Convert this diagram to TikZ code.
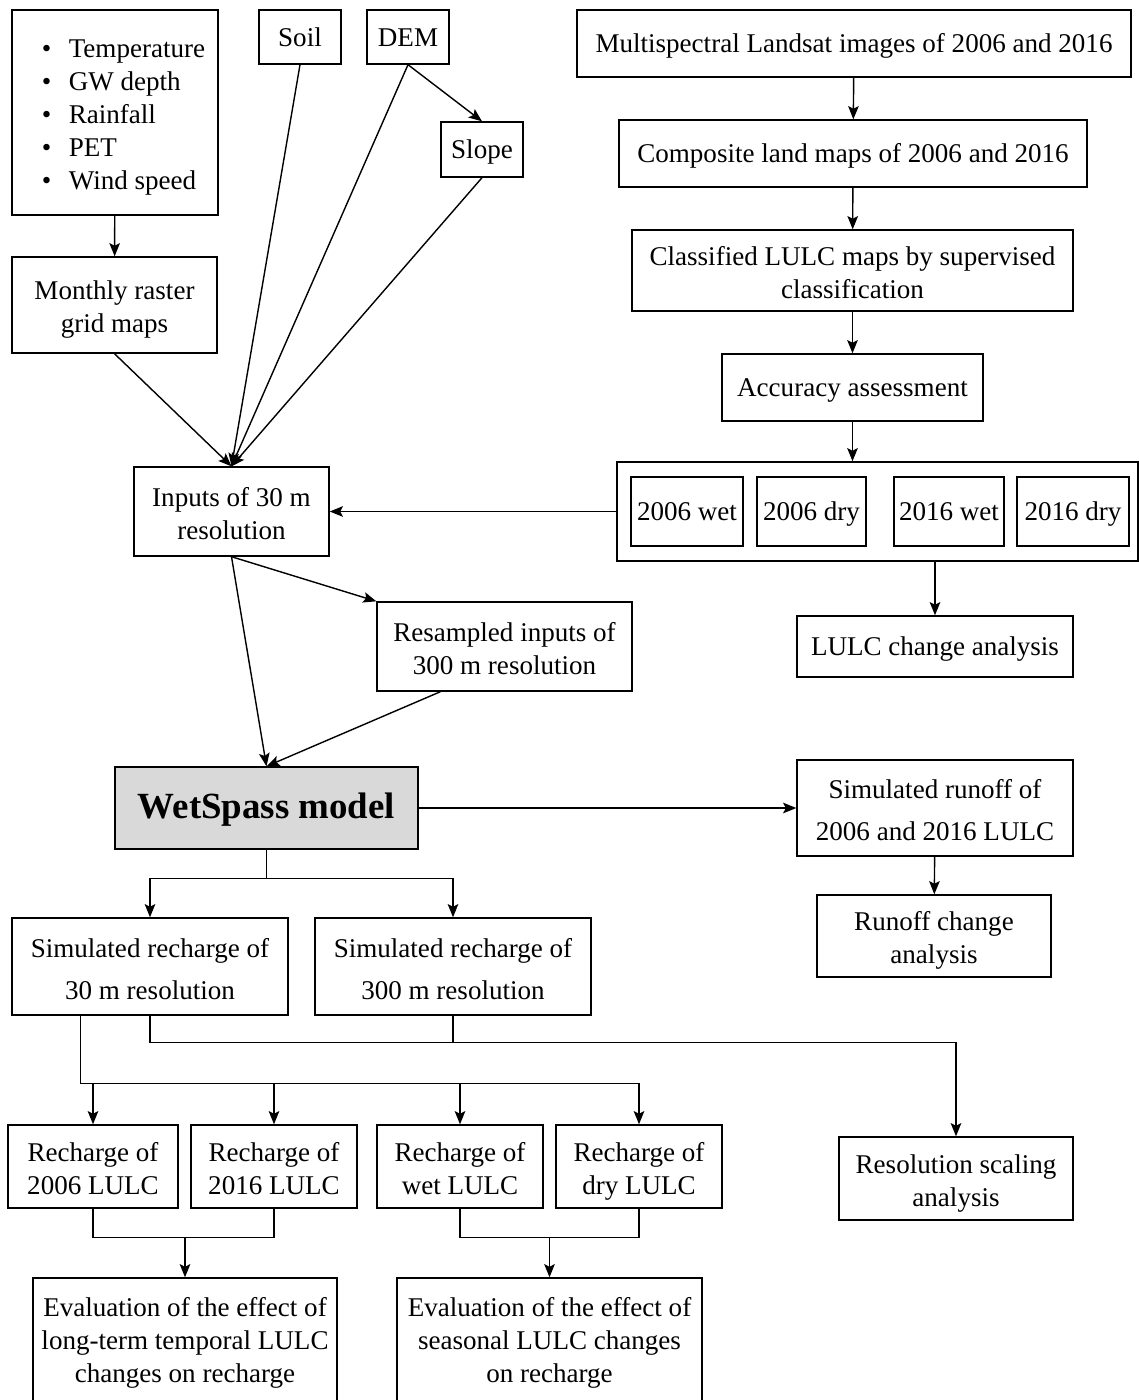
\documentclass[tikz,border=0pt]{standalone}
\usepackage{fontspec}
\setmainfont{Liberation Serif}
\usetikzlibrary{arrows.meta}
\usetikzlibrary{calc}

\begin{document}
\begin{tikzpicture}[x=0.02cm,y=-0.02cm,line width=0.8pt,>={Stealth[length=7.5pt,width=6pt,inset=1.5pt]},
    font=\fontsize{15.4}{18.8}\selectfont,
    box/.style={draw,align=center,inner sep=0pt,text depth=3.85pt},
    l1/.style={box,text height=14.6pt},
    l2/.style={box,text height=35.4pt},
    l2w/.style={box,text height=41.3pt},
    l3/.style={box,text height=51.6pt},
    sz/.style 2 args={minimum width=#1cm,minimum height=#2cm}]
  \useasboundingbox (0,0) rectangle (1139,1400);
  % inputs
  \node (CLIM) [draw,sz={4.12}{4.10}] at (115,112.5) {\begin{tabular}{@{\hspace{0.34cm}}l@{\hspace{0.35cm}}l@{}}
      \textbullet & \rule{0pt}{17.8pt}Temperature\\
      \textbullet & GW depth\\
      \textbullet & Rainfall\\
      \textbullet & PET\\
      \textbullet & Wind speed
    \end{tabular}};
  \node (SOIL) [l1,sz={1.64}{1.08}] at (300,37) {Soil};
  \node (DEM) [l1,sz={1.64}{1.08}] at (408,37) {DEM};
  \node (SLOPE) [l1,sz={1.64}{1.10}] at (482,149.5) {Slope};
  \node (MRG) [l2,sz={4.10}{1.92}] at (114.5,305) {Monthly raster\\grid maps};
  \node (IN30) [l2,sz={3.90}{1.78}] at (231.5,511.5) {Inputs of 30 m\\resolution};
  \node (IN300) [l2,sz={5.10}{1.78}] at (504.5,646.5) {Resampled inputs of\\300 m resolution};
  % landsat branch
  \node (MLS) [l1,sz={11.08}{1.34}] at (854,43.5) {Multispectral Landsat images of 2006 and 2016};
  \node (CLM) [l1,sz={9.36}{1.34}] at (853,153.5) {Composite land maps of 2006 and 2016};
  \node (CLS) [l2,sz={8.82}{1.62}] at (852.5,270.5) {Classified LULC maps by supervised\\classification};
  \node (ACC) [l1,sz={5.22}{1.34}] at (852.5,387.5) {Accuracy assessment};
  \node (SEAS) [draw,sz={10.42}{1.98}] at (877.5,511.5) {};
  \node (W06) [l1,sz={2.24}{1.38}] at (687,511.5) {2006 wet};
  \node (D06) [l1,sz={2.18}{1.38}] at (811.5,511.5) {2006 dry};
  \node (W16) [l1,sz={2.20}{1.38}] at (949,511.5) {2016 wet};
  \node (D16) [l1,sz={2.24}{1.38}] at (1073,511.5) {2016 dry};
  \node (LCA) [l1,sz={5.52}{1.22}] at (935,646.5) {LULC change analysis};
  % model and outputs
  \node (WSM) [draw,sz={6.06}{1.64},fill=black!15,font=\fontsize{21}{25}\selectfont\bfseries] at (266.5,808) {\rule{0pt}{0.8em}WetSpass model};
  \node (RUN) [l2w,sz={5.52}{1.92}] at (935,808) {Simulated runoff of\\[0.18cm]2006 and 2016 LULC};
  \node (RCA) [l2,sz={4.68}{1.64}] at (934,936) {Runoff change\\analysis};
  \node (R30) [l2w,sz={5.52}{1.94}] at (150,966.5) {Simulated recharge of\\[0.18cm]30 m resolution};
  \node (R300) [l2w,sz={5.52}{1.94}] at (453,966.5) {Simulated recharge of\\[0.18cm]300 m resolution};
  \node (R06) [l2,sz={3.40}{1.66}] at (93,1166.5) {Recharge of\\2006 LULC};
  \node (R16) [l2,sz={3.32}{1.66}] at (274,1166.5) {Recharge of\\2016 LULC};
  \node (RWET) [l2,sz={3.32}{1.66}] at (460,1166.5) {Recharge of\\wet LULC};
  \node (RDRY) [l2,sz={3.32}{1.66}] at (639,1166.5) {Recharge of\\dry LULC};
  \node (RSA) [l2,sz={4.68}{1.66}] at (956,1178.5) {Resolution scaling\\analysis};
  \node (EV1) [l3,sz={6.08}{2.52}] at (185,1341) {Evaluation of the effect of\\long-term temporal LULC\\changes on recharge};
  \node (EV2) [l3,sz={6.10}{2.52}] at (549.5,1341) {Evaluation of the effect of\\seasonal LULC changes\\on recharge};

  \draw[->] (CLIM) -- (MRG);
  \draw[->] (DEM.south) -- (SLOPE.north);
  \draw[->] (MRG.south) -- (IN30.north);
  \draw[->] (SOIL.south) -- (IN30.north);
  \draw[->] (DEM.south) -- (IN30.north);
  \draw[->] (SLOPE.south) -- (IN30.north);
  \draw[->] (MLS) -- (CLM);
  \draw[->] (CLM) -- (CLS);
  \draw[->] (CLS) -- (ACC);
  \draw[->] (ACC.south) -- (ACC.south |- SEAS.north);
  \draw[->] (SEAS) -- (IN30);
  \draw[->] (LCA.north |- SEAS.south) -- (LCA.north);
  \draw[->] (IN30.south) -- (IN300.north west);
  \draw[->] (IN30.south) -- (WSM.north);
  \draw[->] ($(IN300.south)!0.5!(IN300.south west)$) -- (WSM.north);
  \draw[->] (WSM) -- (RUN);
  \draw[->] (RUN) -- (RCA);
  \draw[->] (WSM.south) -- ++(0,29) -| (R30.north);
  \draw[->] (WSM.south) ++(0,29) -| (R300.north);
  % recharge split
  \coordinate (BUS) at ($(R30.south west)!0.25!(R30.south east)+(0,68)$);
  \draw[->] ($(R30.south west)!0.25!(R30.south east)$) -- (BUS) -| (RDRY.north);
  \foreach \n in {R06,R16,RWET}
    \draw[->] (BUS -| \n.north) -- (\n.north);
  \draw[->] (R30.south) -- ++(0,27) -| (RSA.north);
  \draw (R300.south) -- ++(0,27);
  \draw (R06.south) -- ++(0,29) -| (R16.south);
  \draw[->] (EV1.north |- R06.south) ++(0,29) -- (EV1.north);
  \draw (RWET.south) -- ++(0,29) -| (RDRY.south);
  \draw[->] (EV2.north |- RWET.south) ++(0,29) -- (EV2.north);
\end{tikzpicture}
\end{document}
